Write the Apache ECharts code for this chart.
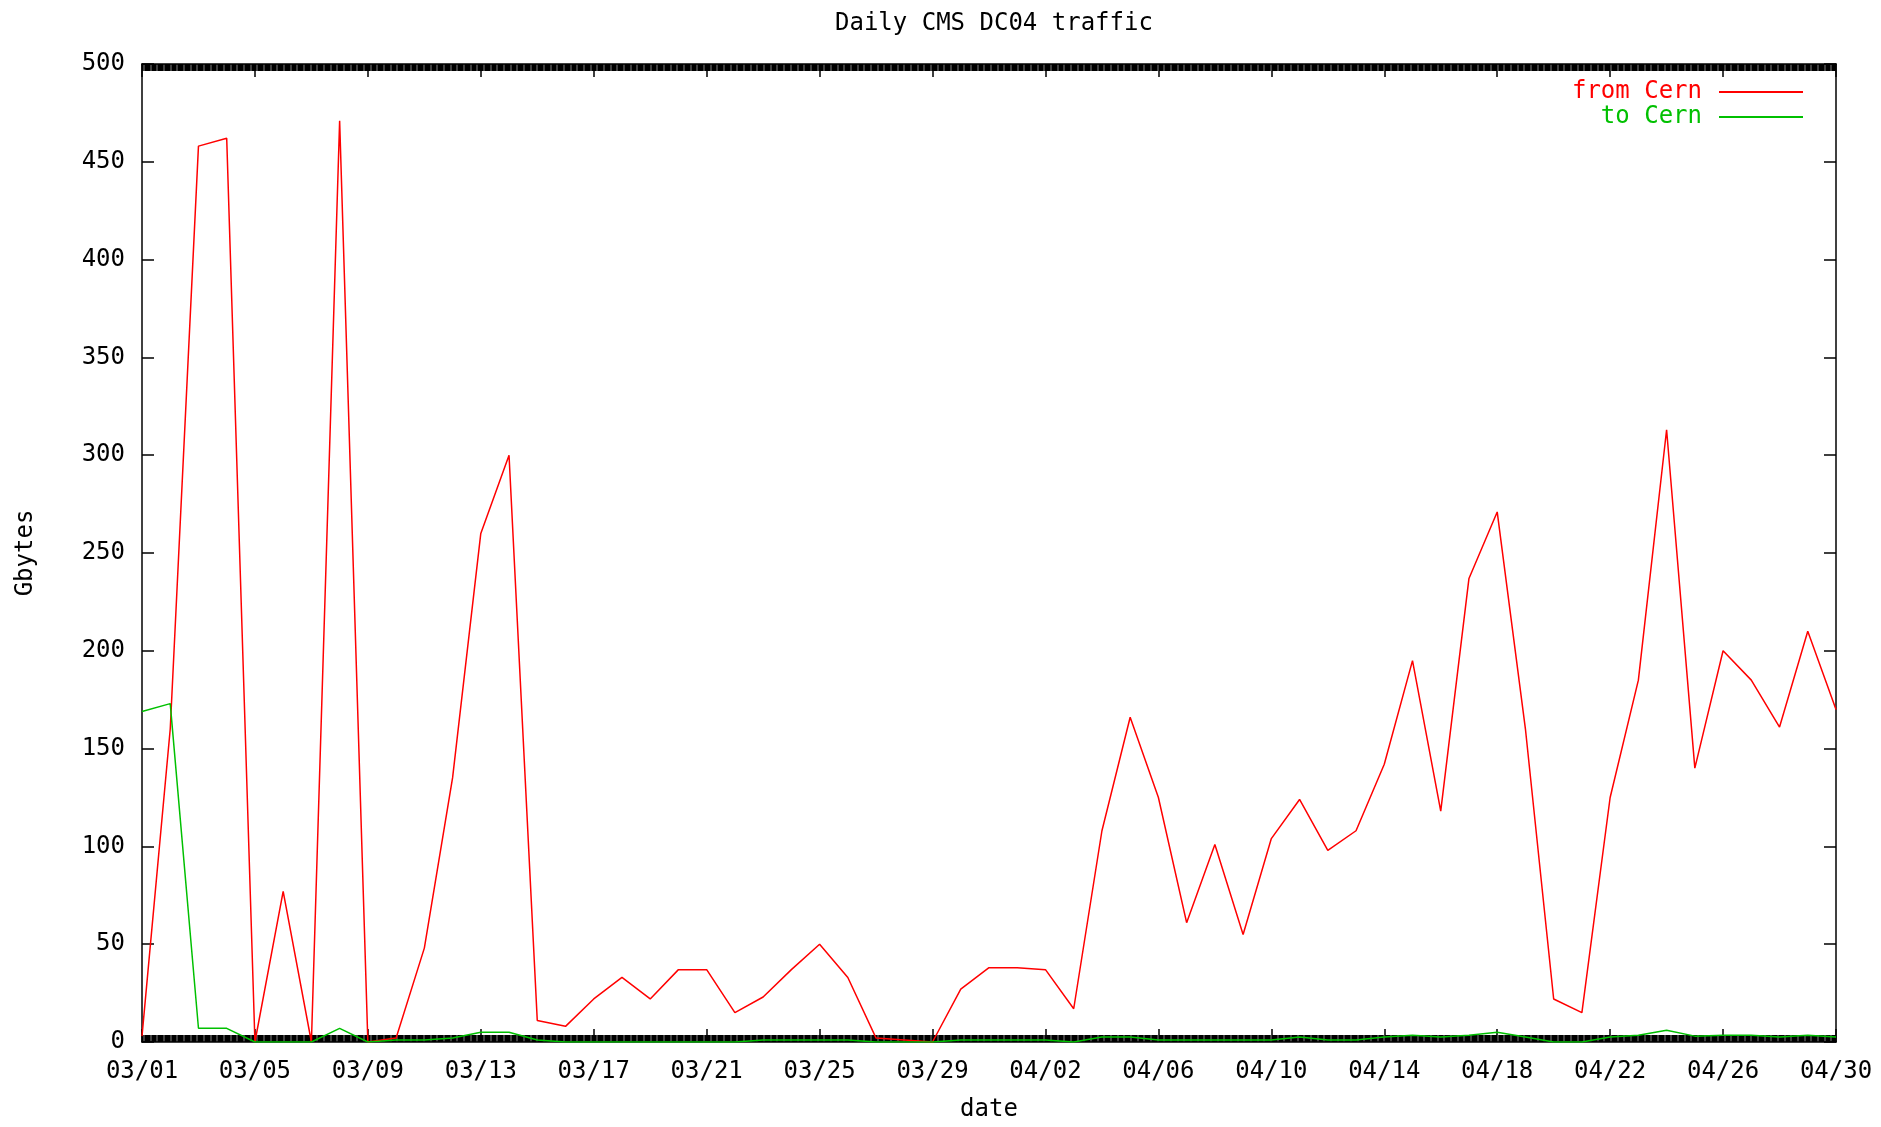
<!DOCTYPE html>
<html>
<head>
<meta charset="utf-8">
<style>
    html, body { margin: 0; padding: 0; background: #fff; }
    #traffic { width: 1881px; height: 1127px; }
</style>
<script src="https://cdn.jsdelivr.net/npm/echarts@6/dist/echarts.min.js"></script>
</head>
<body>
<div id="traffic"></div>
<script>
// one label per day, 03/01 .. 04/30
const dates = [];
for (let d = 1; d <= 31; d++) dates.push('03/' + String(d).padStart(2, '0'));
for (let d = 1; d <= 30; d++) dates.push('04/' + String(d).padStart(2, '0'));

// Gbytes per day
const fromCern = [3, 160, 458, 462, 0, 77, 0, 471, 0, 2,
    48, 135, 260, 300, 11, 8, 22, 33, 22, 37,
    37, 15, 23, 37, 50, 33, 2, 1, 0, 27,
    38, 38, 37, 17, 108, 166, 125, 61, 101, 55,
    104, 124, 98, 108, 142, 195, 118, 237, 271, 160,
    22, 15, 125, 185, 313, 140, 200, 185, 161, 210,
    170];
const toCern = [169, 173, 7, 7, 0, 0, 0, 7, 0, 1,
    1, 2, 5, 5, 1, 0, 0, 0, 0, 0,
    0, 0, 1, 1, 1, 1, 0, 0, 0, 1,
    1, 1, 1, 0, 2.5, 2.5, 1, 1, 1, 1,
    1, 2.5, 1, 1, 2.5, 3.5, 2.5, 3.5, 5, 2.5,
    0, 0, 2.5, 3.5, 6, 3, 3.5, 3.5, 2.5, 3.5,
    2.5];
const yTicks = [0, 50, 100, 150, 200, 250, 300, 350, 400, 450, 500];

const font = 'DejaVu Sans Mono';
const fontSize = 24;
const toPairs = arr => arr.map((v, i) => [i, v]);

let myChart = echarts.init(document.getElementById('traffic'));

// axis look shared by the bottom and the mirrored top axis
const xBase = {
    type: 'value',
    min: 0,
    max: dates.length - 1,
    interval: 4,
    splitLine: { show: false },
    axisLine: { onZero: false, lineStyle: { color: '#000', width: 1.5 } },
    axisTick: { inside: true, length: 13, lineStyle: { color: '#000', width: 1.5 } },
    minorTick: { show: true, splitNumber: 96, length: 7, lineStyle: { color: '#000', width: 1.5 } },
    minorSplitLine: { show: false }
};
const yBase = {
    type: 'value',
    min: yTicks[0],
    max: yTicks[yTicks.length - 1],
    interval: 50,
    splitLine: { show: false },
    axisLine: { show: true, onZero: false, lineStyle: { color: '#000', width: 1.5 } },
    axisTick: { show: true, inside: true, length: 12, lineStyle: { color: '#000', width: 1.5 } }
};

myChart.setOption({
    animation: false,
    backgroundColor: '#fff',
    title: {
        text: 'Daily CMS DC04 traffic',
        left: 830,
        top: 7,
        textStyle: { fontFamily: font, fontSize: fontSize, fontWeight: 'normal', color: '#000' }
    },
    grid: { left: 142, right: 45, top: 64, bottom: 77 },
    legend: {
        orient: 'vertical',
        align: 'right',
        right: 73,
        top: 75,
        icon: 'rect',
        itemWidth: 84,
        itemHeight: 2,
        itemGap: 1,
        textStyle: { fontFamily: font, fontSize: fontSize, padding: [0, 12, 0, 0] },
        data: [
            { name: 'from Cern', textStyle: { color: '#ff0000' } },
            { name: 'to Cern', textStyle: { color: '#00c000' } }
        ]
    },
    xAxis: [
        Object.assign({}, xBase, {
            position: 'bottom',
            name: 'date',
            nameLocation: 'middle',
            nameGap: 56,
            nameTextStyle: { fontFamily: font, fontSize: fontSize, color: '#000' },
            axisLabel: {
                margin: 18,
                fontFamily: font,
                fontSize: fontSize,
                color: '#000',
                formatter: v => dates[v]
            }
        }),
        Object.assign({}, xBase, {
            position: 'top',
            axisLabel: { show: false }
        })
    ],
    yAxis: [
        Object.assign({}, yBase, {
            position: 'left',
            name: 'Gbytes',
            nameLocation: 'middle',
            nameRotate: 90,
            nameGap: 104,
            nameTextStyle: { fontFamily: font, fontSize: fontSize, color: '#000' },
            axisLabel: { margin: 17, fontFamily: font, fontSize: fontSize, color: '#000' }
        }),
        Object.assign({}, yBase, {
            position: 'right',
            axisLabel: { show: false }
        })
    ],
    series: [
        {
            name: 'from Cern',
            type: 'line',
            symbol: 'none',
            data: toPairs(fromCern),
            lineStyle: { color: '#ff0000', width: 1.5 },
            itemStyle: { color: '#ff0000' }
        },
        {
            name: 'to Cern',
            type: 'line',
            symbol: 'none',
            data: toPairs(toCern),
            lineStyle: { color: '#00c000', width: 1.5 },
            itemStyle: { color: '#00c000' }
        }
    ]
});
</script>
</body>
</html>
